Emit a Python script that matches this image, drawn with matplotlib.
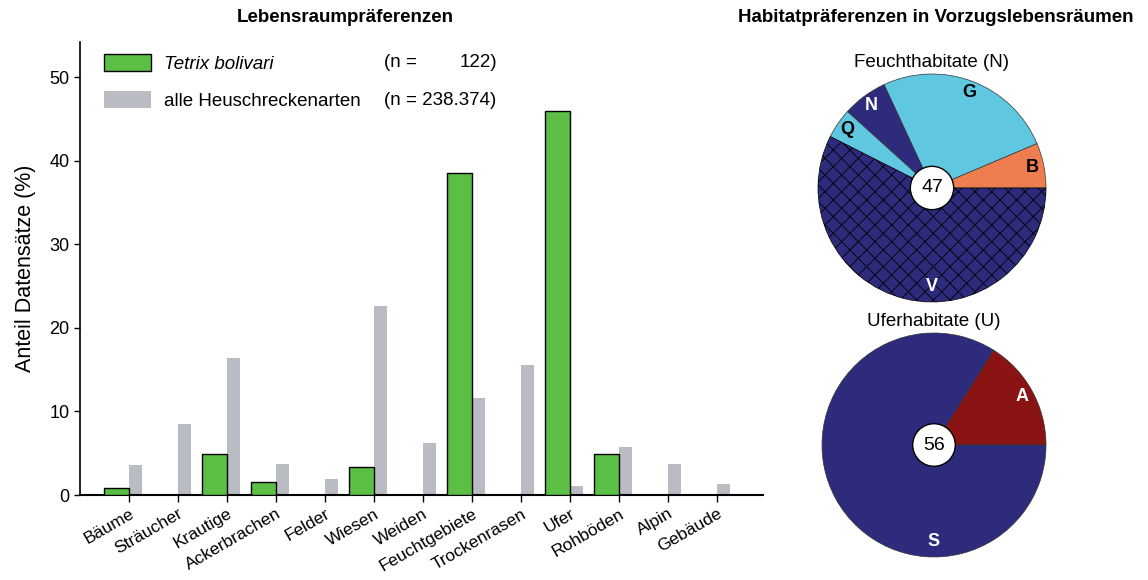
import matplotlib
matplotlib.use("Agg")
import matplotlib.pyplot as plt
import numpy as np
from matplotlib.patches import Patch, Circle

plt.rcParams['font.family'] = ['Liberation Sans', 'DejaVu Sans']

# ---------------- data ----------------
categories = ["Bäume", "Sträucher", "Krautige", "Ackerbrachen", "Felder", "Wiesen",
              "Weiden", "Feuchtgebiete", "Trockenrasen", "Ufer", "Rohböden", "Alpin", "Gebäude"]
tetrix = [0.8, 0, 4.9, 1.6, 0, 3.3, 0, 38.5, 0, 45.9, 4.9, 0, 0]
alle = [3.6, 8.5, 16.4, 3.7, 1.9, 22.6, 6.2, 11.6, 15.5, 1.1, 5.7, 3.7, 1.3]
yticks = [0, 10, 20, 30, 40, 50]

feucht_labels = ["B", "G", "N", "Q", "V"]
feucht_values = [3, 12, 3, 2, 27]
feucht_n = 47
ufer_labels = ["A", "S"]
ufer_values = [9, 47]
ufer_n = 56

green = "#5BBE45"
grey = "#B9BCC3"
navy = "#2E2B7D"
cyan = "#5FC8E0"
orange = "#EE7E4F"
darkred = "#8A1414"

fig = plt.figure(figsize=(11.48, 5.8), dpi=100)

# ---------------- bar chart ----------------
ax = fig.add_axes([80 / 1148, 1 - 495 / 580, (763 - 80) / 1148, (495 - 42) / 580])
x = np.arange(len(categories))
ax.bar(x, tetrix, width=0.5, align='edge', color=green, edgecolor='black', linewidth=1.0)
ax.bar(x, alle, width=0.27, align='edge', color=grey, edgecolor='none')
for p in ax.patches[:len(categories)]:
    p.set_x(p.get_x() - 0.5)
    p.set_zorder(3)
ax.set_xlim(-1.0, len(categories) - 1 + 0.94)
ax.set_ylim(0, 54.2)
ax.set_yticks(yticks)
ax.set_xticks(x)
ax.set_xticklabels(categories, rotation=30, ha='right', rotation_mode='anchor', fontsize=12.5)
ax.tick_params(axis='y', labelsize=13, length=4, width=1)
ax.tick_params(axis='x', length=5, width=1, pad=3)
for s in ['top', 'right']:
    ax.spines[s].set_visible(False)
ax.spines['left'].set_linewidth(1.2)
ax.spines['bottom'].set_linewidth(1.5)
ax.set_ylabel("Anteil Datensätze (%)", fontsize=15.5, labelpad=10)
fig.text(345 / 1148, 1 - 18 / 580, "Lebensraumpräferenzen", ha='center', va='center',
         fontsize=13.5, fontweight='bold')

handles = [Patch(facecolor=green, edgecolor='black', linewidth=1.0),
           Patch(facecolor=grey, edgecolor='none')]
leg = ax.legend(handles, ["Tetrix bolivari", "alle Heuschreckenarten"], loc='upper left',
                bbox_to_anchor=(0.01, 1.01), frameon=False, fontsize=13.5,
                handlelength=2.5, handleheight=1.0, handletextpad=0.7, labelspacing=0.95)
leg.get_texts()[0].set_style('italic')
ax.text(0.445, 0.954, "(n =", transform=ax.transAxes, fontsize=13.5, va='center', ha='left')
ax.text(0.611, 0.954, "122)", transform=ax.transAxes, fontsize=13.5, va='center', ha='right')
ax.text(0.445, 0.870, "(n = 238.374)", transform=ax.transAxes, fontsize=13.5, va='center', ha='left')

# ---------------- pies ----------------
fig.text(936 / 1148, 1 - 18 / 580, "Habitatpräferenzen in Vorzugslebensräumen",
         ha='center', va='center', fontsize=13.5, fontweight='bold')


def draw_pie(cx, cy, r, values, labels, colors, txtcolors, n, title, bottom_label):
    pax = fig.add_axes([(cx - r) / 1148, 1 - (cy + r) / 580, 2 * r / 1148, 2 * r / 580])
    wedges, texts = pax.pie(values, labels=labels, colors=colors, startangle=0,
                            counterclock=True, labeldistance=0.9, radius=1.0,
                            wedgeprops=dict(edgecolor='#333333', linewidth=0.5),
                            textprops=dict(fontsize=13, fontweight='bold', ha='center', va='center'))
    for t, c in zip(texts, txtcolors):
        t.set_color(c)
        t.set_ha('center')
        t.set_va('center')
    for lab in bottom_label:
        i = labels.index(lab)
        texts[i].set_position((0, -0.86))
    pax.add_patch(Circle((0, 0), 0.19, facecolor='white', edgecolor='black', linewidth=1.0, zorder=5))
    pax.text(0, 0, str(n), ha='center', va='center', fontsize=14, zorder=6)
    pax.set_xlim(-1, 1)
    pax.set_ylim(-1, 1)
    pax.set_aspect('equal')
    pax.axis('off')
    pax.text(0, 1.03, title, ha='center', va='bottom', fontsize=13.5)
    return wedges


plt.rcParams['hatch.linewidth'] = 0.6
w1 = draw_pie(932, 188, 114, feucht_values, feucht_labels,
              [orange, cyan, navy, cyan, navy],
              ['black', 'black', 'white', 'black', 'white'],
              feucht_n, "Feuchthabitate (N)", ["V"])
w1[4].set_hatch('xx')
w1[4].set_edgecolor('black')

draw_pie(934, 445, 112, ufer_values, ufer_labels, [darkred, navy], ['white', 'white'],
         ufer_n, "Uferhabitate (U)", ["S"])

fig.savefig("out.png", dpi=100, facecolor='white')
